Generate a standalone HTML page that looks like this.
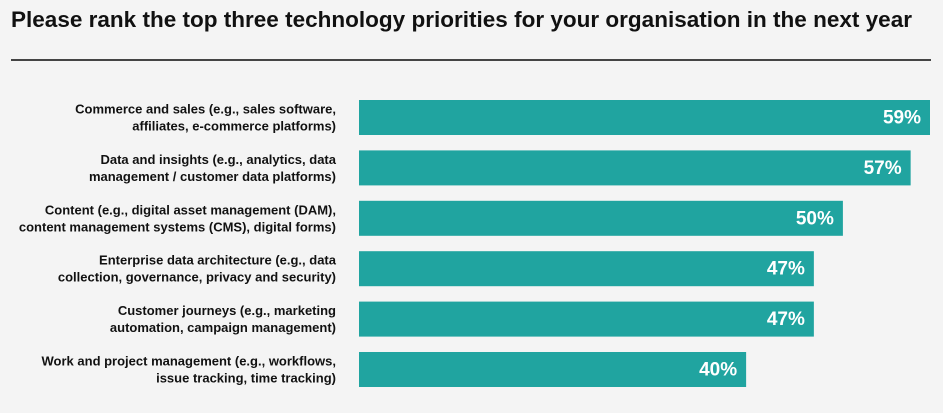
<!DOCTYPE html>
<html><head><meta charset="utf-8"><style>
html,body{margin:0;padding:0;background:#f4f4f4;width:943px;height:413px;overflow:hidden;font-family:"Liberation Sans",Arial,sans-serif}
</style></head><body>
<svg width="943" height="413">
<text x="11" y="27" font-size="22" font-weight="bold" fill="#111" textLength="901" lengthAdjust="spacingAndGlyphs">Please rank the top three technology priorities for your organisation in the next year</text>
<rect x="11" y="59" width="920" height="2" fill="#444"/>
<g id="bars"></g>
</svg>
<script>
const categories=[["Commerce and sales (e.g., sales software,","affiliates, e-commerce platforms)"],["Data and insights (e.g., analytics, data","management / customer data platforms)"],["Content (e.g., digital asset management (DAM),","content management systems (CMS), digital forms)"],["Enterprise data architecture (e.g., data","collection, governance, privacy and security)"],["Customer journeys (e.g., marketing","automation, campaign management)"],["Work and project management (e.g., workflows,","issue tracking, time tracking)"]];
const values=[59,57,50,47,47,40];
const valueLabels=["59%","57%","50%","47%","47%","40%"];
const NS="http://www.w3.org/2000/svg";
const g=document.getElementById('bars');
const x=v=>v*(571/59);
const y=i=>100+i*50.4;
function mk(t,a){const e=document.createElementNS(NS,t);for(const k in a)e.setAttribute(k,a[k]);return e;}
values.forEach((v,i)=>{
 const r=mk('rect',{x:359,y:y(i),width:x(v),height:35,fill:'#20a4a0'});
 
 
 g.appendChild(r);
 const t=mk('text',{x:359+x(v)-9,y:y(i)+23.5,'text-anchor':'end','font-size':19,'font-weight':'bold',fill:'#fff'});
 t.textContent=valueLabels[i];
 
 
 g.appendChild(t);
 categories[i].forEach((line,j)=>{
  const c=mk('text',{x:336,y:y(i)+13.5+j*17,'text-anchor':'end','font-size':13,'font-weight':'bold',fill:'#111'});
  c.textContent=line;
  
  
  g.appendChild(c);
 });
});
</script>
</body></html>
